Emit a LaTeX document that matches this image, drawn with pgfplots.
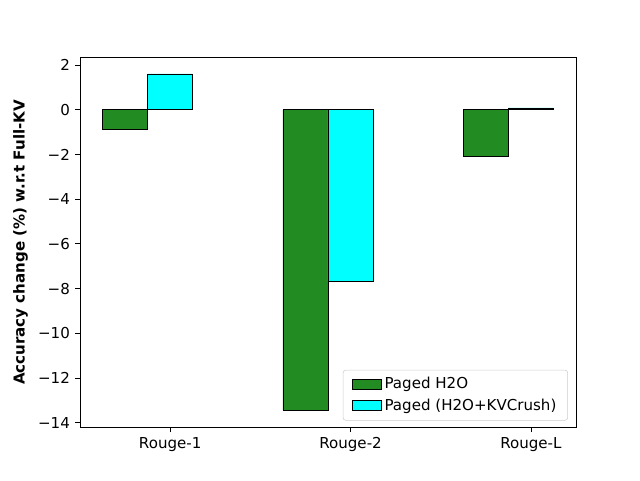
\documentclass[border=0pt]{standalone}
\usepackage{fontspec}
\setmainfont{DejaVu Sans}
\usepackage{pgfplots}
\pgfplotsset{compat=1.18}
\definecolor{fgreen}{RGB}{34,139,34}
\definecolor{aqua}{RGB}{0,255,255}
\newcommand{\fs}{\fontsize{11.3}{13.5}\selectfont}
\begin{document}
\fs
\begin{tikzpicture}
\begin{axis}[
    scale only axis,
    width=372pt, height=277.2pt,
    xmin=-0.5, xmax=2.25,
    ymin=-14.2, ymax=2.33,
    xtick={0,1,2},
    xticklabels={Rouge-1,Rouge-2,Rouge-L},
    ytick={-14,-12,-10,-8,-6,-4,-2,0,2},
    yticklabels={−14,−12,−10,−8,−6,−4,−2,0,2},
    tick align=outside,
    tick pos=left,
    major tick length=3.6pt,
    every tick/.style={black, line width=0.6pt},
    axis line style={line width=0.6pt},
    tick label style={font=\fs},
    ylabel={\bfseries Accuracy change (\%) w.r.t Full-KV},
    ylabel style={font=\fs},
    ybar, bar width=0.25, bar shift=0pt,
    legend style={at={(1,0)}, anchor=south east, xshift=-6pt, yshift=5pt,
        draw=black!20, rounded corners=2pt, font=\fs,
        row sep=2pt, inner ysep=3.5pt, inner xsep=6.5pt},
    legend cell align=left,
    legend image code/.code={\draw[#1, sharp corners] (0pt,-3.5pt) rectangle (22pt,4pt);},
]
\addplot[fill=fgreen, draw=black, line width=0.6pt] coordinates {
    (-0.25,-0.9) (0.75,-13.45) (1.75,-2.1)};
\addplot[fill=aqua, draw=black, line width=0.6pt] coordinates {
    (0,1.6) (1,-7.67) (2,0.08)};
\legend{Paged H2O, Paged (H2O+KVCrush)}
\end{axis}
\path[use as bounding box] ([xshift=-60pt,yshift=-39.6pt]current axis.south west)
    rectangle ([xshift=48pt,yshift=43.2pt]current axis.north east);
\end{tikzpicture}
\end{document}
